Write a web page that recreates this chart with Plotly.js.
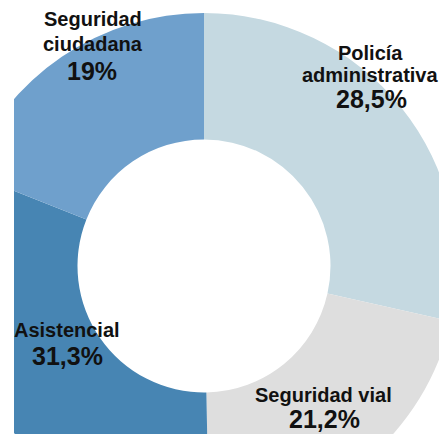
<!DOCTYPE html>
<html>
<head>
<meta charset="utf-8">
<script src="https://cdn.plot.ly/plotly-3.0.1.min.js"></script>
<style>
  html, body { margin: 0; padding: 0; width: 439px; height: 434px; overflow: hidden; background: #ffffff; }
  #chart { position: absolute; }
</style>
</head>
<body>
<div id="chart"></div>
<script>
// ---- data ----
const categories = ['Policía administrativa', 'Seguridad vial', 'Asistencial', 'Seguridad ciudadana'];
const displayLines = [['Policía', 'administrativa'], ['Seguridad vial'], ['Asistencial'], ['Seguridad', 'ciudadana']];
const values = [28.5, 21.2, 31.3, 19];
const colors = ['#c5d9e1', '#dedede', '#4785b3', '#6fa0cc'];

// ---- layout geometry (page pixels) ----
const CX = 204, CY = 266, R = 253, M = 47;
const SIZE = 2 * R + 2 * M;
const el = document.getElementById('chart');
el.style.left = (CX - R - M) + 'px';
el.style.top = (CY - R - M) + 'px';

// label placement: centre x and baselines of each text line, then percent line
const labelPlace = [
  { x: 370, base: [60, 82], px: 371, pbase: 108 },
  { x: 323, base: [402], px: 324, pbase: 428 },
  { x: 67, base: [337], px: 67, pbase: 365 },
  { x: 93, base: [26, 51], px: 92, pbase: 80 }
];
const LABEL_SIZE = 20, PCT_SIZE = 25;
const FONT = '"Liberation Sans", Arial, sans-serif';

function fmtPct(v) { return String(v).replace('.', ',') + '%'; }

const annotations = [];
function addText(text, x, baseline, size) {
  const yMid = baseline - 0.3465 * size;
  annotations.push({
    text: text, x: 0.5, y: 0.5, xref: 'paper', yref: 'paper',
    xanchor: 'center', yanchor: 'middle', showarrow: false,
    xshift: x - CX, yshift: -(yMid - CY),
    font: { family: FONT, size: size, color: '#111111', weight: 'bold' }
  });
}
categories.forEach((c, i) => {
  const p = labelPlace[i];
  displayLines[i].forEach((ln, j) => addText(ln, p.x, p.base[j], LABEL_SIZE));
  addText(fmtPct(values[i]), p.px, p.pbase, PCT_SIZE);
});

const trace = {
  type: 'pie',
  labels: categories,
  values: values,
  hole: 0.5,
  sort: false,
  direction: 'clockwise',
  rotation: 0,
  textinfo: 'none',
  hoverinfo: 'label+percent',
  marker: { colors: colors, line: { width: 0 } },
  domain: { x: [0, 1], y: [0, 1] }
};

const layout = {
  width: SIZE, height: SIZE,
  margin: { l: M, r: M, t: M, b: M, pad: 0 },
  showlegend: false,
  paper_bgcolor: 'rgba(0,0,0,0)',
  plot_bgcolor: 'rgba(0,0,0,0)',
  separators: ',.',
  annotations: annotations,
  shapes: [{
    type: 'rect', xref: 'paper', yref: 'paper', layer: 'above',
    x0: -0.5, x1: (14 - (CX - R)) / (2 * R), y0: -0.5, y1: 1.5,
    fillcolor: '#ffffff', line: { width: 0 }
  }]
};

Plotly.newPlot(el, [trace], layout, { displayModeBar: false, staticPlot: true });
</script>
</body>
</html>
